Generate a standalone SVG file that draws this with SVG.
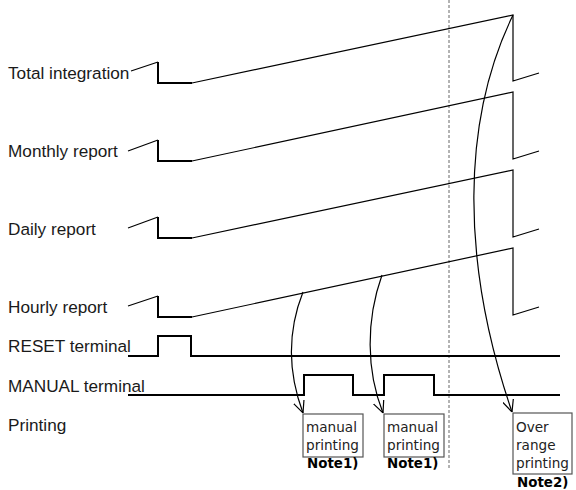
<svg xmlns="http://www.w3.org/2000/svg" width="576" height="490" viewBox="0 0 576 490">
<style>
.lbl{font-family:"Liberation Sans",Arial,sans-serif;font-size:17.2px;fill:#1a1a1a}
.bt{font-family:"DejaVu Sans",sans-serif;font-size:13.6px;fill:#222}
.nt{font-family:"DejaVu Sans",sans-serif;font-size:13.4px;font-weight:bold;fill:#000}
.thin{fill:none;stroke:#000;stroke-width:1.2}
.thick{fill:none;stroke:#000;stroke-width:2}
.box{fill:#fff;stroke:#555;stroke-width:1.2}
.arr{fill:none;stroke:#000;stroke-width:1.2;marker-end:url(#ah)}
</style>
<defs>
<marker id="ah" viewBox="0 0 12 12" refX="12" refY="6" markerWidth="12" markerHeight="12" markerUnits="userSpaceOnUse" orient="auto">
<path d="M0,0.5 L12,6 L0,11.5" fill="none" stroke="#000" stroke-width="1.2"/>
</marker>
</defs>
<rect width="576" height="490" fill="#fff"/>
<line x1="449" y1="0" x2="449" y2="468" stroke="#666" stroke-width="1" stroke-dasharray="3,2"/>

<g id="total">
<text class="lbl" x="8" y="79">Total integration</text>
<path class="thin" d="M131,71 L158,62"/>
<path class="thick" d="M158,62 L158,83 L192,83"/>
<path class="thin" d="M192,83 L513,15 L513,81 L539,73"/>
</g>
<g id="monthly">
<text class="lbl" x="8" y="157">Monthly report</text>
<path class="thin" d="M128,151 L158,140"/>
<path class="thick" d="M158,140 L158,161 L192,161"/>
<path class="thin" d="M192,161 L513,92 L513,159 L539,151"/>
</g>
<g id="daily">
<text class="lbl" x="8" y="235">Daily report</text>
<path class="thin" d="M128,228 L158,217"/>
<path class="thick" d="M158,217 L158,238 L192,238"/>
<path class="thin" d="M192,238 L513,170 L513,237 L539,229"/>
</g>
<g id="hourly">
<text class="lbl" x="8" y="313">Hourly report</text>
<path class="thin" d="M128,306 L158,296"/>
<path class="thick" d="M158,296 L158,317 L192,317"/>
<path class="thin" d="M192,317 L513,248 L513,315 L539,307"/>
</g>
<g id="reset">
<text class="lbl" x="8" y="352">RESET terminal</text>
<path class="thick" d="M128,356 L158,356 L158,336 L191,336 L191,356 L560,356"/>
</g>
<g id="manual">
<text class="lbl" x="8" y="392">MANUAL terminal</text>
<path class="thick" d="M128,395 L304,395 L304,375 L353,375 L353,395 L384,395 L384,375 L434,375 L434,395 L560,395"/>
</g>
<g id="printing">
<text class="lbl" x="8" y="431">Printing</text>
</g>

<g id="box1">
<rect class="box" x="303" y="414" width="60" height="43"/>
<text class="bt" x="306" y="432">manual</text>
<text class="bt" x="306" y="450">printing</text>
<text class="nt" x="307" y="468">Note1)</text>
</g>
<g id="box2">
<rect class="box" x="384" y="414" width="60" height="43"/>
<text class="bt" x="387" y="432">manual</text>
<text class="bt" x="387" y="450">printing</text>
<text class="nt" x="387" y="468">Note1)</text>
</g>
<g id="box3">
<rect class="box" x="513" y="413" width="59" height="61"/>
<text class="bt" x="516" y="432">Over</text>
<text class="bt" x="516" y="450">range</text>
<text class="bt" x="516" y="468">printing</text>
<text class="nt" x="517" y="487">Note2)</text>
</g>

<g id="connectors">
<path class="arr" d="M303,292 C288,330 287,370 303,413"/>
<path class="arr" d="M382,275 C366,320 366,370 383,413"/>
<path class="arr" d="M513,15 C462,120 460,260 512,412"/>
</g>
</svg>
